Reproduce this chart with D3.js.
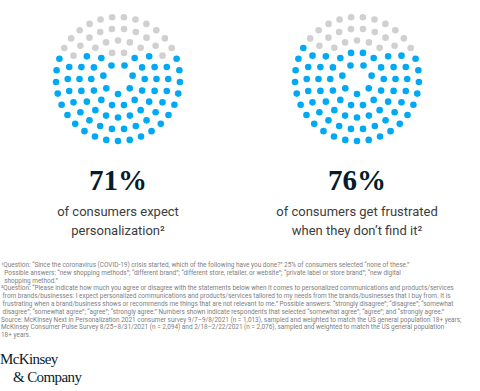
<!DOCTYPE html>
<html>
<head>
<meta charset="utf-8">
<script src="https://cdn.jsdelivr.net/npm/d3@7"></script>
<style>
  body { margin: 0; background: #fff; }
  svg { display: block; }
</style>
</head>
<body>
<svg id="chart"></svg>
<script>
// values
const shares = [71, 76];               // % of consumers, one dot = 1%
const totalDots = 100;
const captions = [
    ["of consumers expect", "personalization²"],
    ["of consumers get frustrated", "when they don’t find it²"]
];
const ringCounts = [7, 14, 20, 26, 33];   // dots per ring, inner -> outer (sum = 100)
const footnotes = [
    "¹Question: “Since the coronavirus (COVID-19) crisis started, which of the following have you done?” 25% of consumers selected “none of these.”",
    "  Possible answers: “new shopping methods”; “different brand”; “different store, retailer, or website”; “private label or store brand”; “new digital",
    "  shopping method.”",
    "²Question: “Please indicate how much you agree or disagree with the statements below when it comes to personalized communications and products/services",
    " from brands/businesses: I expect personalized communications and products/services tailored to my needs from the brands/businesses that I buy from. It is",
    " frustrating when a brand/business shows or recommends me things that are not relevant to me.” Possible answers: “strongly disagree”; “disagree”; “somewhat",
    " disagree”; “somewhat agree”; “agree”; “strongly agree.” Numbers shown indicate respondents that selected “somewhat agree”; “agree”; and “strongly agree.”",
    "Source: McKinsey Next in Personalization 2021 consumer survey 9/7–9/8/2021 (n = 1,013), sampled and weighted to match the US general population 18+ years;",
    "McKinsey Consumer Pulse Survey 8/25–8/31/2021 (n = 2,094) and 2/18–2/22/2021 (n = 2,076), sampled and weighted to match the US general population",
    "18+ years."
];

const width = 480;
const height = 391;
const blue = '#00a9f4';
const grey = '#d0d0d0';
const navy = '#051c2c';

const svg = d3.select('#chart')
    .attr('width', width)
    .attr('height', height);

// panel centres and ring radii
const xPanel = d3.scalePoint().domain(d3.range(shares.length)).range([118, 357]);
const rRing = d3.scaleLinear().domain([0, ringCounts.length - 1]).range([15, 62]);
const cy = 79;

// build the 100 dot positions (relative to the centre)
const dots = [];
ringCounts.forEach((n, ri) => {
    const r = rRing(ri);
    const offset = ri % 2 ? Math.PI / n : 0;
    for (let i = 0; i < n; i++) {
        const a = Math.PI / 2 + offset + i * 2 * Math.PI / n;
        dots.push({ x: r * Math.cos(a), y: r * Math.sin(a) });
    }
});
// lowest dots first: they get the blue
const order = dots.slice().sort((a, b) => (b.y - a.y) || (a.x - b.x));

const panel = svg.selectAll('g.panel')
    .data(shares)
    .enter().append('g')
    .attr('class', 'panel')
    .attr('transform', (d, i) => `translate(${xPanel(i)},0)`);

panel.selectAll('circle')
    .data(d => order.map((p, k) => ({ x: p.x, y: p.y, on: k < d * totalDots / 100 })))
    .enter().append('circle')
    .attr('cx', d => d.x)
    .attr('cy', d => cy + d.y)
    .attr('r', 3.3)
    .attr('fill', d => d.on ? blue : grey);

panel.append('text')
    .attr('y', 190)
    .attr('text-anchor', 'middle')
    .attr('font-family', '"Liberation Serif", "DejaVu Serif", serif')
    .attr('font-weight', 'bold')
    .attr('font-size', 29)
    .attr('fill', navy)
    .text(d => d + '%');

panel.each(function(d, i) {
    d3.select(this).selectAll('text.cap')
        .data(captions[i])
        .enter().append('text')
        .attr('class', 'cap')
        .attr('y', (t, j) => 216 + j * 19)
        .attr('text-anchor', 'middle')
        .attr('font-family', 'Roboto, "Noto Sans", sans-serif')
        .attr('font-size', 13)
        .attr('fill', '#3c3c3c')
        .text(t => t);
});

// footnotes
svg.append('g')
    .selectAll('text')
    .data(footnotes)
    .enter().append('text')
    .attr('x', 1)
    .attr('y', (d, i) => 267 + i * 7.8)
    .attr('font-family', 'Roboto, "Noto Sans", sans-serif')
    .attr('font-size', 6.45)
    .attr('fill', '#808080')
    .attr('xml:space', 'preserve')
    .style('white-space', 'pre')
    .text(d => d);

// logo
const logo = svg.append('g')
    .attr('font-family', '"Liberation Serif", serif')
    .attr('font-size', 15)
    .attr('fill', navy)
    .attr('letter-spacing', -0.6);
logo.append('text').attr('x', 0).attr('y', 364).text('McKinsey');
logo.append('text').attr('x', 13).attr('y', 382).text('& Company');
</script>
</body>
</html>
